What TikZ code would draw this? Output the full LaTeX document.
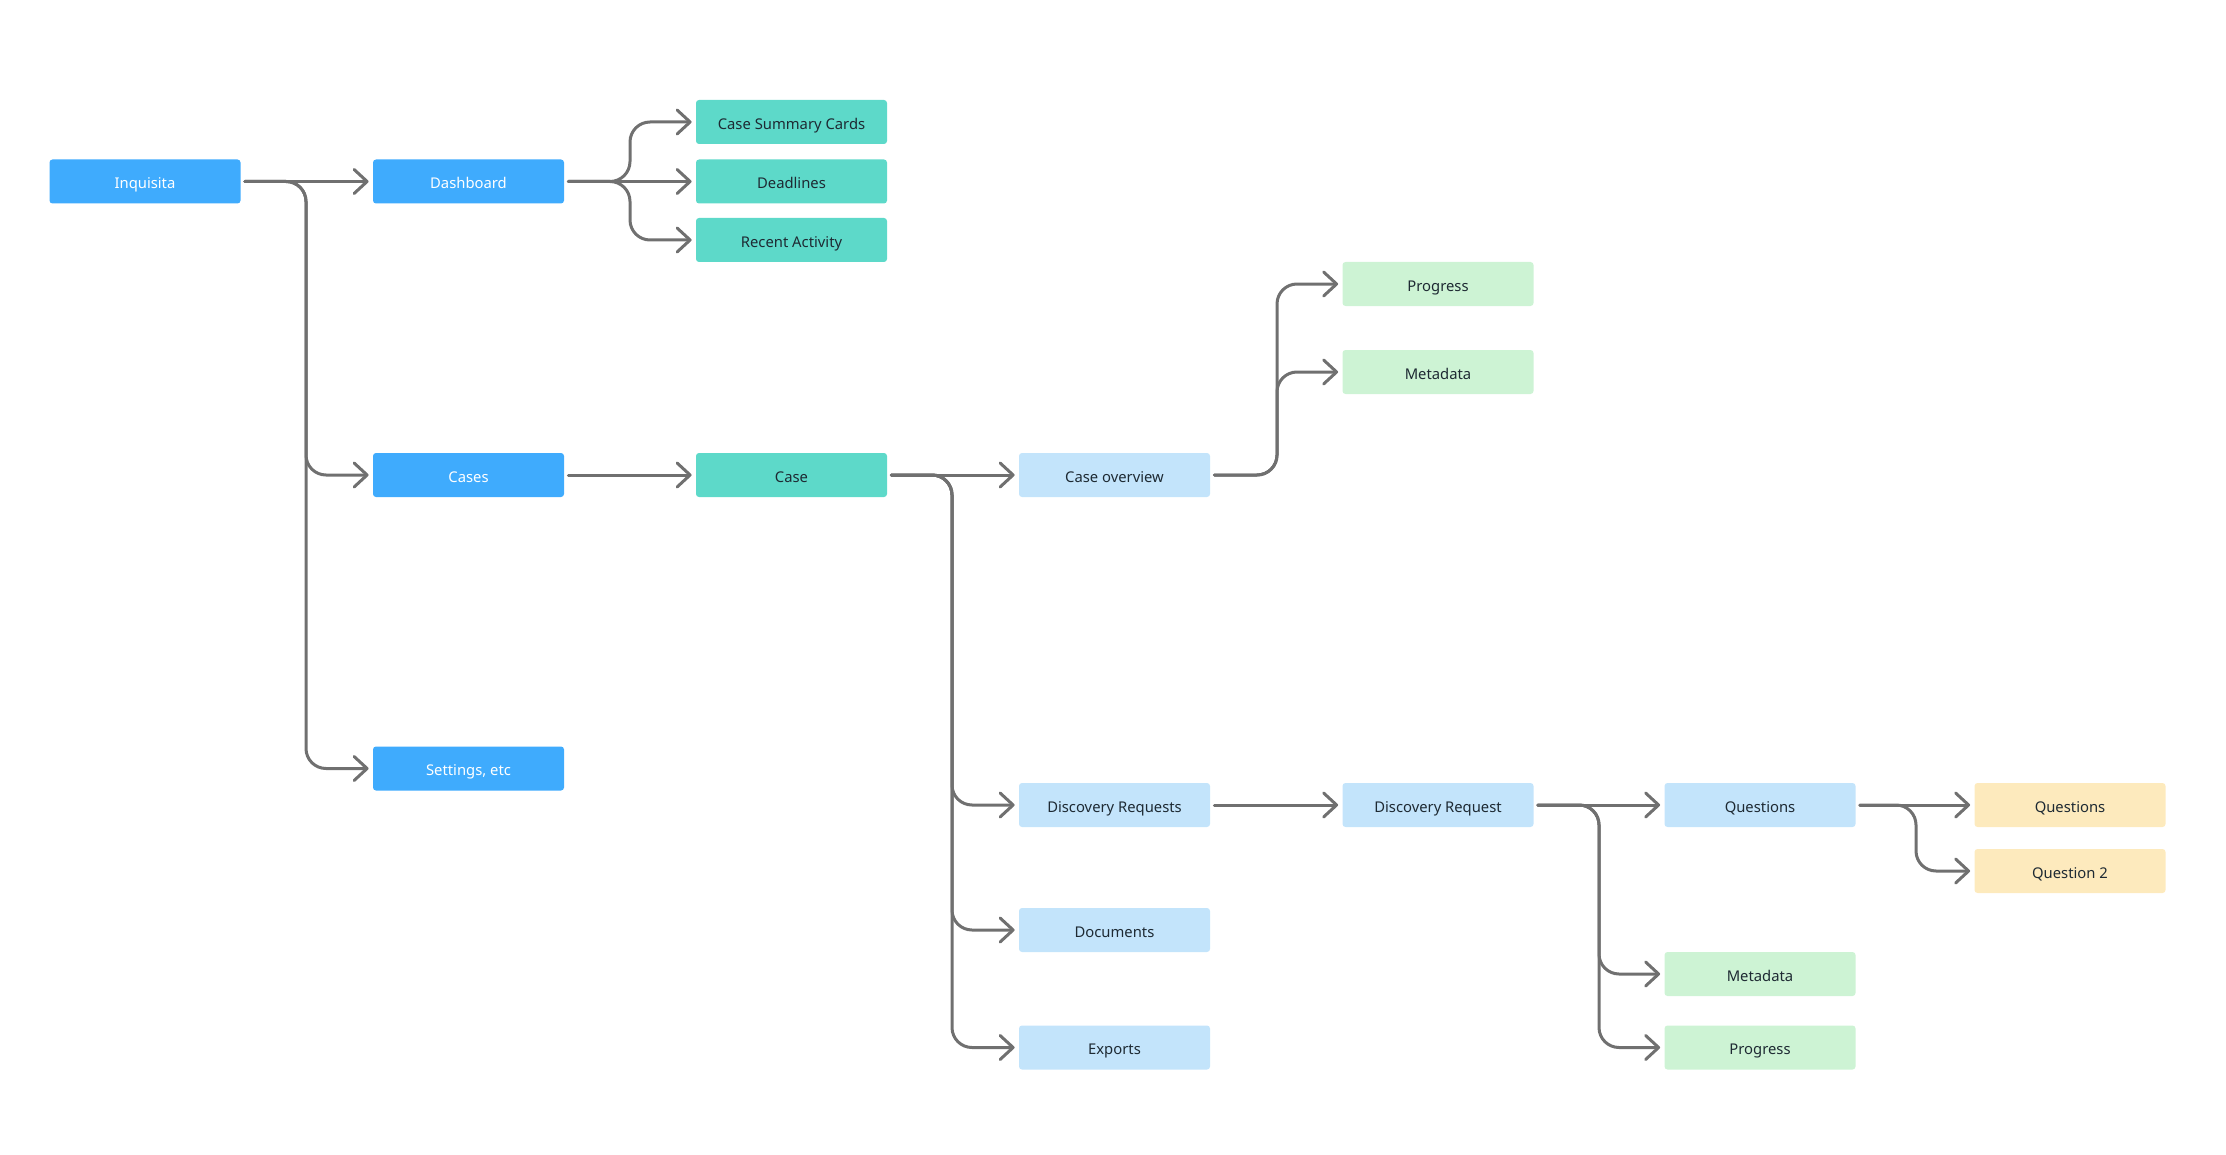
\documentclass[tikz,border=0pt]{standalone}
\usepackage{fontspec}
\setmainfont{Noto Sans}
\usetikzlibrary{arrows.meta}
\definecolor{cdark}{HTML}{3FABFD}
\definecolor{cteal}{HTML}{5DD9C9}
\definecolor{clblue}{HTML}{C3E4FB}
\definecolor{cgreen}{HTML}{CDF3D4}
\definecolor{cyellow}{HTML}{FDEABD}
\definecolor{cline}{HTML}{707070}
\definecolor{ctext}{HTML}{1E2A33}
\tikzset{
  box/.style={rectangle, rounded corners=1.5pt, minimum width=95.5pt, minimum height=22pt, inner sep=0pt,
    text height=0.75em, text depth=0.03em, font=\fontsize{7.4}{9}\selectfont},
  darkbox/.style={box, fill=cdark, text=white},
  tealbox/.style={box, fill=cteal, text=ctext},
  bluebox/.style={box, fill=clblue, text=ctext},
  greenbox/.style={box, fill=cgreen, text=ctext},
  yellowbox/.style={box, fill=cyellow, text=ctext},
  conn/.style={draw=cline, line width=1.5pt, line cap=round, line join=round, rounded corners=10pt,
    -{Straight Barb[length=6.5pt, width=12pt, line width=1.5pt, round]}}
}
\begin{document}
\begin{tikzpicture}[x=0.5pt, y=-0.5pt]
\useasboundingbox (0,0) rectangle (2226,1155);
% nodes
\node[darkbox] (inq) at (145,181.5) {Inquisita};
\node[darkbox] (dash) at (468.5,181.5) {Dashboard};
\node[tealbox] (csc) at (791.5,122) {Case Summary Cards};
\node[tealbox] (dead) at (791.5,181.5) {Deadlines};
\node[tealbox] (recent) at (791.5,240) {Recent Activity};
\node[darkbox] (cases) at (468.5,475) {Cases};
\node[darkbox] (settings) at (468.5,768.5) {Settings, etc};
\node[tealbox] (case) at (791.5,475) {Case};
\node[bluebox] (cov) at (1114.5,475) {Case overview};
\node[greenbox] (prog1) at (1438,284) {Progress};
\node[greenbox] (meta1) at (1438,372) {Metadata};
\node[bluebox] (drs) at (1114.5,805) {Discovery Requests};
\node[bluebox] (docs) at (1114.5,930) {Documents};
\node[bluebox] (exp) at (1114.5,1047.5) {Exports};
\node[bluebox] (dr) at (1438,805) {Discovery Request};
\node[bluebox] (qs) at (1760,805) {Questions};
\node[greenbox] (meta2) at (1760,974) {Metadata};
\node[greenbox] (prog2) at (1760,1047.5) {Progress};
\node[yellowbox] (qy) at (2070,805) {Questions};
\node[yellowbox] (q2) at (2070,871) {Question 2};
% trunks
\coordinate (t1) at (306,0);
\coordinate (t2) at (630,0);
\coordinate (t3) at (952,0);
\coordinate (t4) at (1277,0);
\coordinate (t5) at (1599,0);
\coordinate (t6) at (1916,0);
% straight connectors
\draw[conn] ([xshift=2pt]inq.east) -- ([xshift=-2pt]dash.west);
\draw[conn] ([xshift=2pt]dash.east) -- ([xshift=-2pt]dead.west);
\draw[conn] ([xshift=2pt]cases.east) -- ([xshift=-2pt]case.west);
\draw[conn] ([xshift=2pt]case.east) -- ([xshift=-2pt]cov.west);
\draw[conn] ([xshift=2pt]drs.east) -- ([xshift=-2pt]dr.west);
\draw[conn] ([xshift=2pt]dr.east) -- ([xshift=-2pt]qs.west);
\draw[conn] ([xshift=2pt]qs.east) -- ([xshift=-2pt]qy.west);
% branching connectors
\draw[conn] ([xshift=2pt]inq.east) -- (inq.east -| t1) |- ([xshift=-2pt]cases.west);
\draw[conn] ([xshift=2pt]inq.east) -- (inq.east -| t1) |- ([xshift=-2pt]settings.west);
\draw[conn] ([xshift=2pt]dash.east) -- (dash.east -| t2) |- ([xshift=-2pt]csc.west);
\draw[conn] ([xshift=2pt]dash.east) -- (dash.east -| t2) |- ([xshift=-2pt]recent.west);
\draw[conn] ([xshift=2pt]case.east) -- (case.east -| t3) |- ([xshift=-2pt]drs.west);
\draw[conn] ([xshift=2pt]case.east) -- (case.east -| t3) |- ([xshift=-2pt]docs.west);
\draw[conn] ([xshift=2pt]case.east) -- (case.east -| t3) |- ([xshift=-2pt]exp.west);
\draw[conn] ([xshift=2pt]cov.east) -- (cov.east -| t4) |- ([xshift=-2pt]prog1.west);
\draw[conn] ([xshift=2pt]cov.east) -- (cov.east -| t4) |- ([xshift=-2pt]meta1.west);
\draw[conn] ([xshift=2pt]dr.east) -- (dr.east -| t5) |- ([xshift=-2pt]meta2.west);
\draw[conn] ([xshift=2pt]dr.east) -- (dr.east -| t5) |- ([xshift=-2pt]prog2.west);
\draw[conn] ([xshift=2pt]qs.east) -- (qs.east -| t6) |- ([xshift=-2pt]q2.west);
\end{tikzpicture}
\end{document}
